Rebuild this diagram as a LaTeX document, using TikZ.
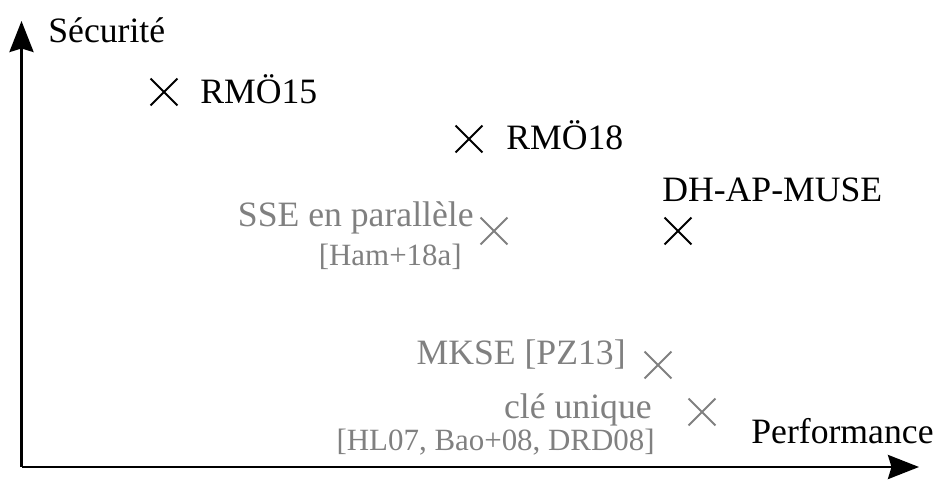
\documentclass[tikz,border=0pt]{standalone}
\usepackage{fontspec}
\setmainfont{Liberation Serif}
\usetikzlibrary{arrows.meta}
\usetikzlibrary{shapes.misc}
\usetikzlibrary{positioning}
\tikzset{
  axis/.style = {line width=1.7pt,-{Stealth[length=0.62cm,width=0.48cm,inset=0.07cm]}},
  pt/.style = {draw,cross out,line width=1.1pt,minimum size=0.5cm,inner sep=0pt},
  old/.style = {gray},
  big/.style = {font=\fontsize{20.3}{24}\selectfont,inner sep=0pt},
  small/.style = {font=\fontsize{17.6}{21}\selectfont,inner sep=0pt}
}

\begin{document}
\begin{tikzpicture}[x=0.02cm,y=-0.02cm]

    \useasboundingbox (0,0) rectangle (945,482);

    \coordinate (O) at (21.5,467);
    \coordinate (Ytip) at (21.5,21);
    \coordinate (Xtip) at (919,467);

    % axes
    \draw [axis] (O) -- (Ytip);
    \draw [axis] (O) -- (Xtip);
    \node [big,anchor=base west] (sec) at (48,43) {Sécurité};
    \node [big,anchor=base west] (perf) at (751,443) {Performance};

    % our schemes
    \node [pt] (rmo15) at (164,92) {};
    \node [big,anchor=base west] (rmo15l) at (200,104) {RMÖ15};
    \node [pt] (rmo18) at (469,139) {};
    \node [big,anchor=base west] (rmo18l) at (506,150) {RMÖ18};
    \node [pt] (dh) at (678,231) {};
    \node [big,anchor=base west] (dhl) at (662,202) {DH-AP-MUSE};

    % previous work, in gray
    \node [pt,old] (sse) at (494,231) {};
    \node [big,old,anchor=base east] (ssel) at (474,227) {SSE en parallèle};
    \node [small,old,anchor=base east] (ssec) at (462,266) {[Ham+18a]};
    \node [pt,old] (mkse) at (658,365) {};
    \node [big,old,anchor=base east] (mksel) at (626,364) {MKSE [PZ13]};
    \node [pt,old] (cle) at (702,412) {};
    \node [big,old,anchor=base east] (clel) at (652,418) {clé unique};
    \node [small,old,anchor=base east] (clec) at (655,450) {[HL07, Bao+08, DRD08]};

\end{tikzpicture}
\end{document}
